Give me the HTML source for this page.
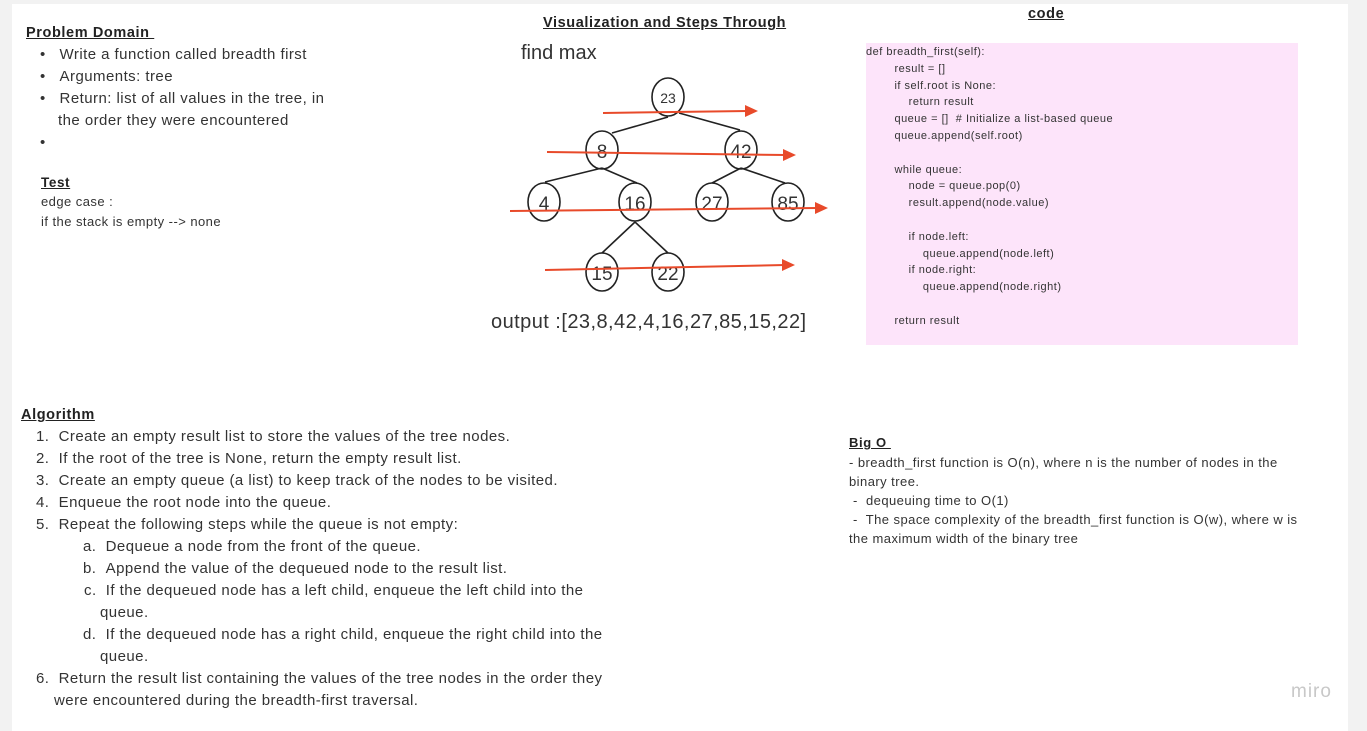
<!DOCTYPE html>
<html><head><meta charset="utf-8"><style>
html,body{margin:0;padding:0;}
body{width:1367px;height:731px;background:#f2f2f2;position:relative;overflow:hidden;font-family:"Liberation Sans",sans-serif;color:#333;}
#c{position:absolute;left:12px;top:4px;width:1336px;height:727px;background:#fff;}
.a{position:absolute;white-space:nowrap;}
.h{font-weight:bold;text-decoration:underline;font-size:14.5px;color:#222;letter-spacing:0.6px;}
.t{font-size:15px;line-height:22px;letter-spacing:0.45px;}
.s{font-size:13px;line-height:19.5px;letter-spacing:0.45px;}
.code{position:absolute;left:866px;top:43px;width:432px;height:302px;background:#fde4fa;font-size:11px;line-height:16.8px;color:#333;letter-spacing:0.5px;}
.code div{white-space:pre;}
</style></head><body>
<div id="c"></div>
<div class="a h" style="left:26px;top:25px;">Problem Domain&nbsp;</div>
<div class="a t" style="left:40px;top:44px;">•&nbsp;&nbsp;&nbsp;Write a function called breadth first</div>
<div class="a t" style="left:40px;top:66px;">•&nbsp;&nbsp;&nbsp;Arguments: tree</div>
<div class="a t" style="left:40px;top:88px;">•&nbsp;&nbsp;&nbsp;Return: list of all values in the tree, in</div>
<div class="a t" style="left:58px;top:110px;">the order they were encountered</div>
<div class="a t" style="left:40px;top:132px;">•</div>
<div class="a h" style="left:41px;top:175px;font-size:13.5px;">Test</div>
<div class="a s" style="left:41px;top:192px;">edge case :</div>
<div class="a s" style="left:41px;top:212px;">if the stack is empty --&gt; none</div>

<div class="a h" style="left:543px;top:15px;">Visualization and Steps Through</div>
<div class="a h" style="left:1028px;top:6px;">code</div>
<div class="a" style="left:521px;top:42px;font-size:20px;">find max</div>
<div class="a" style="left:491px;top:311px;font-size:20px;letter-spacing:0.45px;">output :[23,8,42,4,16,27,85,15,22]</div>

<svg class="a" style="left:0;top:0" width="1367" height="731">
<g stroke="#222" stroke-width="1.6" fill="none">
<line x1="668" y1="117" x2="612" y2="133"/><line x1="679" y1="113" x2="740" y2="130"/>
<line x1="602" y1="168" x2="545" y2="182"/><line x1="602" y1="168" x2="637" y2="183"/>
<line x1="741" y1="168" x2="712" y2="183"/><line x1="741" y1="168" x2="785" y2="183"/>
<line x1="635" y1="222" x2="602" y2="253"/><line x1="635" y1="222" x2="668" y2="253"/>
<ellipse cx="668" cy="97" rx="16" ry="19"/><ellipse cx="602" cy="150" rx="16" ry="19"/>
<ellipse cx="741" cy="150" rx="16" ry="19"/><ellipse cx="544" cy="202" rx="16" ry="19"/>
<ellipse cx="635" cy="202" rx="16" ry="19"/><ellipse cx="712" cy="202" rx="16" ry="19"/>
<ellipse cx="788" cy="202" rx="16" ry="19"/><ellipse cx="602" cy="272" rx="16" ry="19"/>
<ellipse cx="668" cy="272" rx="16" ry="19"/>
</g>
<g font-family="Liberation Sans,sans-serif" fill="#333" text-anchor="middle">
<text x="668" y="103" font-size="14">23</text>
<text x="602" y="158" font-size="19">8</text><text x="741" y="158" font-size="19">42</text>
<text x="544" y="210" font-size="19">4</text><text x="635" y="210" font-size="19">16</text>
<text x="712" y="210" font-size="19">27</text><text x="788" y="210" font-size="19">85</text>
<text x="602" y="280" font-size="19">15</text><text x="668" y="280" font-size="19">22</text>
</g>
<g stroke="#e84a2a" stroke-width="2" fill="#e84a2a">
<line x1="603" y1="113" x2="748" y2="111"/><polygon points="758,111 745,105 745,117" stroke="none"/>
<line x1="547" y1="152" x2="786" y2="155"/><polygon points="796,155 783,149 783,161" stroke="none"/>
<line x1="510" y1="211" x2="818" y2="208"/><polygon points="828,208 815,202 815,214" stroke="none"/>
<line x1="545" y1="270" x2="785" y2="265"/><polygon points="795,265 782,259 782,271" stroke="none"/>
</g>
</svg>

<div class="code">
<div style="margin-top:1px;padding-left:0;">def breadth_first(self):</div>
<div>        result = []</div>
<div>        if self.root is None:</div>
<div>            return result</div>
<div>        queue = []  # Initialize a list-based queue</div>
<div>        queue.append(self.root)</div>
<div> </div>
<div>        while queue:</div>
<div>            node = queue.pop(0)</div>
<div>            result.append(node.value)</div>
<div> </div>
<div>            if node.left:</div>
<div>                queue.append(node.left)</div>
<div>            if node.right:</div>
<div>                queue.append(node.right)</div>
<div> </div>
<div>        return result</div>
</div>

<div class="a h" style="left:21px;top:407px;">Algorithm</div>
<div class="a t" style="left:36px;top:426px;">1.&nbsp;&nbsp;Create an empty result list to store the values of the tree nodes.</div>
<div class="a t" style="left:36px;top:448px;">2.&nbsp;&nbsp;If the root of the tree is None, return the empty result list.</div>
<div class="a t" style="left:36px;top:470px;">3.&nbsp;&nbsp;Create an empty queue (a list) to keep track of the nodes to be visited.</div>
<div class="a t" style="left:36px;top:492px;">4.&nbsp;&nbsp;Enqueue the root node into the queue.</div>
<div class="a t" style="left:36px;top:514px;">5.&nbsp;&nbsp;Repeat the following steps while the queue is not empty:</div>
<div class="a t" style="left:83px;top:536px;">a.&nbsp;&nbsp;Dequeue a node from the front of the queue.</div>
<div class="a t" style="left:83px;top:558px;">b.&nbsp;&nbsp;Append the value of the dequeued node to the result list.</div>
<div class="a t" style="left:84px;top:580px;">c.&nbsp;&nbsp;If the dequeued node has a left child, enqueue the left child into the</div>
<div class="a t" style="left:100px;top:602px;">queue.</div>
<div class="a t" style="left:83px;top:624px;">d.&nbsp;&nbsp;If the dequeued node has a right child, enqueue the right child into the</div>
<div class="a t" style="left:100px;top:646px;">queue.</div>
<div class="a t" style="left:36px;top:668px;">6.&nbsp;&nbsp;Return the result list containing the values of the tree nodes in the order they</div>
<div class="a t" style="left:54px;top:690px;">were encountered during the breadth-first traversal.</div>

<div class="a h" style="left:849px;top:435px;font-size:13px;">Big O&nbsp;</div>
<div class="a s" style="left:849px;top:453px;">- breadth_first function is O(n), where n is the number of nodes in the</div>
<div class="a s" style="left:849px;top:472px;">binary tree.</div>
<div class="a s" style="left:849px;top:491px;">&nbsp;-&nbsp; dequeuing time to O(1)</div>
<div class="a s" style="left:849px;top:510px;">&nbsp;-&nbsp; The space complexity of the breadth_first function is O(w), where w is</div>
<div class="a s" style="left:849px;top:529px;">the maximum width of the binary tree</div>

<div class="a" style="left:1291px;top:681px;font-size:19px;color:#c8c8c8;letter-spacing:1px;">miro</div>
</body></html>
